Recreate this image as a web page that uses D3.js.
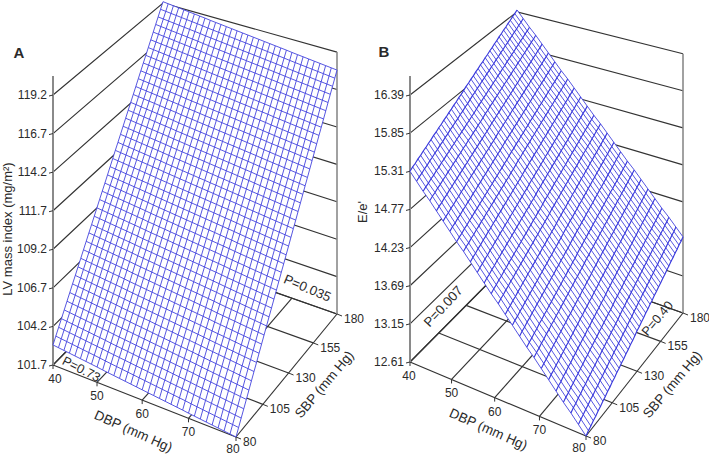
<!DOCTYPE html>
<html><head><meta charset="utf-8">
<script src="https://cdn.jsdelivr.net/npm/d3@7"></script>
<style>html,body{margin:0;padding:0;background:#fff}svg{display:block}text{font-family:"Liberation Sans",Arial,sans-serif;fill:#2a2a2a}</style>
</head><body><svg id="c" width="709" height="455"></svg>
<script>
const dbpTicks=[40,50,60,70,80];
const sbpTicks=[80,105,130,155,180];
const zTicksA=["101.7","104.2","106.7","109.2","111.7","114.2","116.7","119.2"];
const zTicksB=["12.61","13.15","13.69","14.23","14.77","15.31","15.85","16.39"];
// Height of each surface along its DBP = 80 edge, one value per SBP mesh line
const sbpEdgeA=[101.70,102.09,102.48,102.86,103.25,103.64,104.03,104.42,104.80,105.19,105.58,105.97,106.36,106.75,107.13,107.52,107.91,108.30,108.69,109.07,109.46,109.85,110.24,110.63,111.01,111.40,111.79,112.18,112.57,112.95,113.34,113.73,114.12,114.51,114.90,115.28,115.67,116.06,116.45,116.84,117.22,117.61,118.00];
const sbpEdgeB=[12.61,12.64,12.66,12.69,12.71,12.74,12.76,12.79,12.81,12.84,12.86,12.89,12.91,12.94,12.96,12.99,13.01,13.04,13.06,13.09,13.11,13.14,13.17,13.19,13.22,13.24,13.27,13.29,13.32,13.34,13.37,13.39,13.42,13.44,13.47,13.49,13.52,13.54,13.57,13.59,13.62,13.64,13.67,13.69,13.72];
// Rise above that edge, one value per DBP mesh line from 40 to 80
const dbpRiseA=[1.30,1.26,1.22,1.18,1.14,1.10,1.06,1.02,0.98,0.93,0.89,0.85,0.81,0.77,0.73,0.69,0.65,0.61,0.57,0.53,0.49,0.45,0.41,0.37,0.32,0.28,0.24,0.20,0.16,0.12,0.08,0.04,0.00];
const dbpRiseB=[2.70,2.59,2.48,2.38,2.27,2.16,2.05,1.94,1.84,1.73,1.62,1.51,1.40,1.30,1.19,1.08,0.97,0.86,0.76,0.65,0.54,0.43,0.32,0.22,0.11,0.00];

const svg=d3.select("#c");
const INK="#333333",AXIS="#8a8a8a",BLUE="#3838dc";

function homography(p){
  const [[x0,y0],[x1,y1],[x2,y2],[x3,y3]]=p;
  const dx1=x1-x2,dx2=x3-x2,sx=x0-x1+x2-x3,dy1=y1-y2,dy2=y3-y2,sy=y0-y1+y2-y3;
  const den=dx1*dy2-dx2*dy1,g=(sx*dy2-dx2*sy)/den,h=(dx1*sy-sx*dy1)/den;
  const a=x1-x0+g*x1,b=x3-x0+h*x3,d=y1-y0+g*y1,e=y3-y0+h*y3;
  return (u,v)=>{const w=g*u+h*v+1;return [(a*u+b*v+x0)/w,(d*u+e*v+y0)/w,w];};
}

function panel(o){
  const g=svg.append("g");
  const H=homography(o.corners);
  const uS=d3.scaleLinear().domain([40,80]).range([0,1]);
  const vS=d3.scaleLinear().domain([80,180]).range([0,1]);
  const zVals=o.zTicks.map(Number);
  const zS=d3.scaleLinear().domain([zVals[0],zVals[zVals.length-1]]).range([0,o.height]);
  const P=(dbp,sbp,z)=>{const [x,y,w]=H(uS(dbp),vS(sbp));return [x,y-zS(z)/w];};
  const z0=zVals[0];
  const ln=d3.line();
  const path=(pts,col,w)=>g.append("path").attr("d",ln(pts)).attr("fill","none").attr("stroke",col).attr("stroke-width",w);

  zVals.forEach(z=>{ path([P(40,80,z),P(40,180,z),P(80,180,z)],INK,1.15); });
  dbpTicks.forEach(d=>path([P(d,80,z0),P(d,180,z0)],INK,1.15));
  sbpTicks.forEach(s=>path([P(40,s,z0),P(80,s,z0)],INK,1.15));
  const fl=P(40,80,z0),br=P(80,180,z0),brTop=P(80,180,zVals[7]);
  path([fl,[fl[0],fl[1]-o.height-19]],AXIS,2);
  path([br,brTop],AXIS,1.6);
  zVals.forEach((z,i)=>{
    const p=P(40,80,z);
    path([p,[p[0]-4,p[1]+1]],INK,1);
    g.append("text").attr("x",p[0]-6).attr("y",p[1]+4).attr("text-anchor","end").attr("font-size",12).text(o.zTicks[i]);
  });
  dbpTicks.forEach((d,i)=>{
    const p=P(d,80,z0);
    path([p,[p[0],p[1]+4]],INK,1);
    g.append("text").attr("x",p[0]+o.dbpDx[i]).attr("y",p[1]+(i===4?16:18)).attr("text-anchor","middle").attr("font-size",12).text(d);
  });
  sbpTicks.forEach((s,i)=>{
    const p=P(80,s,z0);
    path([p,[p[0]+5,p[1]+2]],INK,1);
    g.append("text").attr("x",p[0]+7).attr("y",p[1]+9).attr("font-size",12).text(s);
  });
  const nd=o.rise.length,ns=o.edge.length;
  const D=d3.scaleLinear().domain([0,nd-1]).range([40,80]);
  const S=d3.scaleLinear().domain([0,ns-1]).range([80,180]);
  const pt=(i,j)=>P(D(i),S(j),o.edge[j]+o.rise[i]);
  const outline=[...d3.range(nd).map(i=>pt(i,0)),...d3.range(ns).map(j=>pt(nd-1,j)),
    ...d3.range(nd).map(i=>pt(nd-1-i,ns-1)),...d3.range(ns).map(j=>pt(0,ns-1-j))];
  g.append("path").attr("d",ln(outline)+"Z").attr("fill","#fff").attr("stroke","none");
  d3.range(ns).forEach(j=>path(d3.range(nd).map(i=>pt(i,j)),BLUE,o.wS));
  d3.range(nd).forEach(i=>path(d3.range(ns).map(j=>pt(i,j)),BLUE,o.wD));
  o.notes.forEach(n=>{
    g.append("text").attr("transform",`translate(${n[1]},${n[2]}) rotate(${n[3]})`)
     .attr("text-anchor","middle").attr("dominant-baseline","middle")
     .attr("font-size",n[4]).attr("font-weight",n[5]||"normal").text(n[0]);
  });
}

panel({corners:[[53,365],[236,437],[337,314],[163,253]],height:270,zTicks:zTicksA,edge:sbpEdgeA,rise:dbpRiseA,dbpDx:[2,0,0,0,-3],wS:0.85,wD:0.85,
  notes:[["A",19,54,0,15,"bold"],["LV mass index (mg/m²)",9,229,-90,13],["DBP (mm Hg)",133,432,24,13.5],["SBP (mm Hg)",325,385,-50,13.5],
  ["P=0.035",307,289,23,13.3],["P=0.73",81,370,27,12.8]]});
panel({corners:[[410,362],[586,436],[683,313],[517,254]],height:267,zTicks:zTicksB,edge:sbpEdgeB,rise:dbpRiseB,dbpDx:[-1,0,0,0,-7],wS:0.85,wD:1.15,
  notes:[["B",384,53,0,15,"bold"],["E/e'",364,212,-90,13],["DBP (mm Hg)",488,430,24,13.5],["SBP (mm Hg)",673,385,-50,13.5],
  ["P=0.007",444,307,-47,13.3],["P=0.40",658,319,-50,12.8]]});
</script></body></html>
